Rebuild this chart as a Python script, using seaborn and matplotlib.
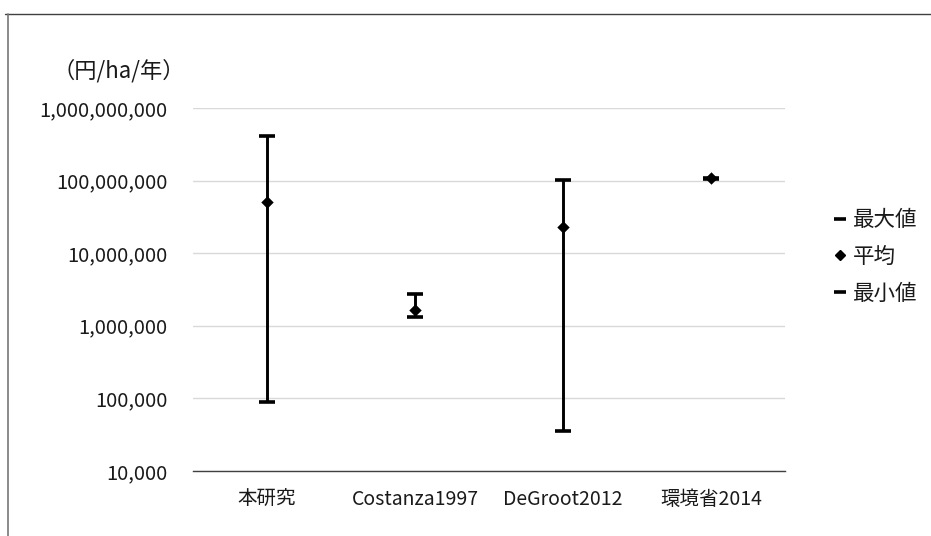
import matplotlib
matplotlib.use("Agg")
import matplotlib.pyplot as plt
from matplotlib.lines import Line2D
from matplotlib.ticker import FixedLocator, FuncFormatter, NullLocator
import pandas as pd
import seaborn as sns

# Value ranges (yen / ha / year) per source
categories = ["本研究", "Costanza1997", "DeGroot2012", "環境省2014"]
max_values = [4.15e8, 2.75e6, 1.03e8, 1.10e8]
mean_values = [5.0e7, 1.66e6, 2.27e7, 1.07e8]
min_values = [8.8e4, 1.32e6, 3.5e4, 1.04e8]
y_ticks = [1e4, 1e5, 1e6, 1e7, 1e8, 1e9]
legend_labels = ["最大値", "平均", "最小値"]
y_unit = "（円/ha/年）"

sns.set_theme(style="white")
plt.rcParams["font.family"] = ["Noto Sans CJK JP", "DejaVu Sans"]

mean_df = pd.DataFrame({"category": categories, "value": mean_values})
cap_df = pd.DataFrame({
    "category": categories * 2,
    "value": max_values + min_values,
    "stat": ["最大値"] * len(categories) + ["最小値"] * len(categories),
})

fig = plt.figure(figsize=(9.31, 5.36), dpi=100)
ax = fig.add_axes([0.2073, 0.1213, 0.6359, 0.6772])
ax.set_yscale("log")

# Order categories along the x axis
x_pos = {c: i for i, c in enumerate(categories)}
mean_df["x"] = mean_df["category"].map(x_pos)
cap_df["x"] = cap_df["category"].map(x_pos)

# High-low lines
ax.vlines(mean_df["x"], min_values, max_values, color="black", linewidth=2.1, zorder=2)

# Max / min caps
sns.scatterplot(data=cap_df, x="x", y="value", marker="_", s=118, color="black",
                linewidth=2.6, ax=ax, legend=False, zorder=3)
# Mean diamonds
sns.scatterplot(data=mean_df, x="x", y="value", marker="D", s=40, color="black",
                edgecolor="black", linewidth=0, ax=ax, legend=False, zorder=4)

ax.set_xlim(-0.5, len(categories) - 0.5)
ax.set_ylim(1e4, 1e9)
ax.set_xticks(range(len(categories)))
ax.set_xticklabels(categories, fontsize=14, color="#1a1a1a")
ax.yaxis.set_major_locator(FixedLocator(y_ticks))
ax.yaxis.set_minor_locator(NullLocator())
ax.yaxis.set_major_formatter(FuncFormatter(lambda v, _: f"{int(round(v)):,}"))
ax.tick_params(axis="y", labelsize=14.5, labelcolor="#1a1a1a", length=0, pad=18.5)
ax.tick_params(axis="x", length=0, pad=13)
ax.set_xlabel("")
ax.set_ylabel("")

ax.grid(axis="y", color="#d9d9d9", linewidth=1.0)
ax.grid(axis="x", visible=False)
for side in ["top", "right", "left"]:
    ax.spines[side].set_visible(False)
ax.spines["bottom"].set_color("#404040")
ax.spines["bottom"].set_linewidth(1.0)
ax.spines["bottom"].set_zorder(1)

# Unit label above the axis
fig.text(119 / 931, 1 - 71 / 536, y_unit, fontsize=16, ha="center", va="center",
         color="#1a1a1a")

# Legend
handles = [
    Line2D([], [], linestyle="none", marker="_", markersize=8.6, markeredgewidth=2.6,
           color="black"),
    Line2D([], [], linestyle="none", marker="D", markersize=4.8, color="black"),
    Line2D([], [], linestyle="none", marker="_", markersize=8.6, markeredgewidth=2.6,
           color="black"),
]
leg = fig.legend(handles, legend_labels, loc="center left",
                 bbox_to_anchor=(825 / 931, 1 - 257 / 536), frameon=False,
                 fontsize=15.5, handlelength=0.6, handletextpad=0.3,
                 labelspacing=0.69, borderaxespad=0)
for t in leg.get_texts():
    t.set_color("#1a1a1a")

# Outer chart frame (top and left edges)
fig.add_artist(Line2D([5 / 931, 1], [1 - 14 / 536, 1 - 14 / 536],
                      transform=fig.transFigure, color="#404040", linewidth=1.0))
fig.add_artist(Line2D([8 / 931, 8 / 931], [0, 1 - 14 / 536],
                      transform=fig.transFigure, color="#777777", linewidth=1.2))

fig.savefig("out.png", dpi=100, facecolor="white")
